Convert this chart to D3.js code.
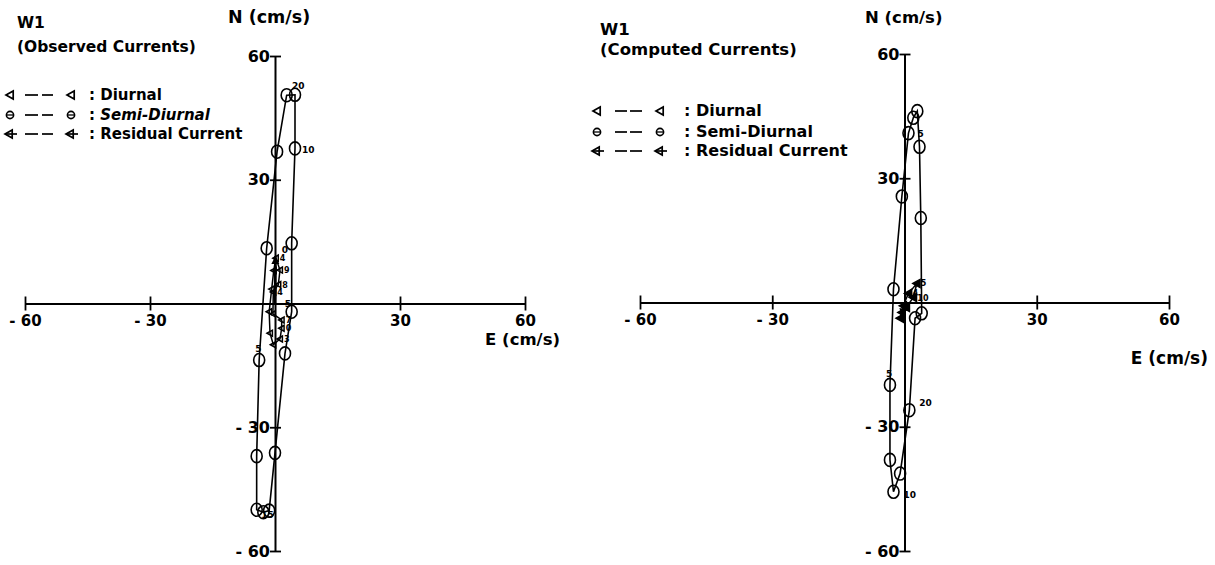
<!DOCTYPE html>
<html>
<head>
<meta charset="utf-8">
<script src="https://cdn.jsdelivr.net/npm/d3@7"></script>
<style>
  body { margin: 0; background: #fff; }
  text { font-family: "DejaVu Sans", sans-serif; font-weight: bold; fill: #000; }
</style>
</head>
<body>
<script>
// axis ticks (cm/s)
var eTicks = [-60, -30, 30, 60];
var nTicks = [-60, -30, 30, 60];

// [east, north, hour label], in drawing order (closed loops)
var obsSemi = [
  [2.8, 50.5, ""], [4.8, 50.6, "20"], [4.8, 37.6, "10"], [4.0, 14.6, "0"],
  [4.0, -2.0, "5"], [2.4, -12.1, ""], [0.0, -36.2, ""], [-1.4, -50.2, ""],
  [-2.8, -50.6, "15"], [-4.4, -50.0, ""], [-4.4, -37.0, ""], [-3.8, -13.7, "5"],
  [-2.0, 13.4, ""], [0.5, 36.8, ""]
];
var obsDiurnal = [
  [0.2, 11.0, "4"], [1.2, 8.1, "9"], [0.8, 4.6, "8"], [-0.4, 2.8, "4"],
  [-0.5, -2.5, ""], [1.6, -4.0, "7"], [1.6, -6.0, "0"], [1.2, -8.6, "3"],
  [-0.4, -10.0, ""], [-1.2, -7.2, ""], [-1.4, -2.0, ""], [-0.8, 3.5, ""],
  [-0.3, 8.0, ""]
];
var obsResidual = [0.1, 11.5];

var compSemi = [
  [2.0, 44.6, ""], [2.9, 46.2, ""], [3.4, 37.6, ""], [3.7, 20.4, ""],
  [3.9, -2.6, ""], [2.4, -3.8, ""], [1.1, -26.0, "20"], [-1.0, -41.3, ""],
  [-2.5, -45.7, "10"], [-3.3, -38.0, ""], [-3.3, -19.9, "5"], [-2.5, 3.2, ""],
  [-0.6, 25.6, ""], [0.9, 40.9, "5"]
];
var compDiurnal = [
  [0.9, 2.2, "4"], [2.8, 4.6, "5"], [2.0, 1.2, "10"], [0.4, -1.2, ""],
  [-0.6, -2.4, ""], [-1.0, -3.8, ""], [-0.3, -0.8, ""]
];
var compResidual = [-0.6, -3.4];

var legendNames = ["Diurnal", "Semi-Diurnal", "Residual Current"];

var svg = d3.select("body").append("svg")
  .attr("width", 1215)
  .attr("height", 565);

// label nudges (px) for hour numbers, by panel and point index
var nudgeObs = {1: [-3, -6], 2: [7, 5], 3: [-10, 10], 4: [-7, -5], 8: [-2, 6], 11: [-4, -8]};
var nudgeComp = {6: [10, -4], 8: [10, 6], 10: [-4, -8], 13: [9, 4]};

var panels = [
  {
    semi: obsSemi, diurnal: obsDiurnal, residual: obsResidual,
    x: d3.scaleLinear().domain([-60, 60]).range([25, 525]),
    y: d3.scaleLinear().domain([-60, 60]).range([551, 56]),
    title: ["W1", "(Observed Currents)"], titleX: 17, titleY: [28, 52], titleSize: 15.5,
    nTitle: [228, 23, 17.5], eTitle: [560, 345, 16.5],
    legendY: [100, 120, 139], legendSize: 15, italicSemi: true,
    legendX: {s1: 10, d1: [25, 38], d2: [42, 53], s2: 71, text: 89},
    nudge: nudgeObs, diurnalFill: "none", triSize: 3
  },
  {
    semi: compSemi, diurnal: compDiurnal, residual: compResidual,
    x: d3.scaleLinear().domain([-60, 60]).range([640, 1169]),
    y: d3.scaleLinear().domain([-60, 60]).range([551, 54]),
    title: ["W1", "(Computed Currents)"], titleX: 600, titleY: [35, 55], titleSize: 16.5,
    nTitle: [865, 23, 16.5], eTitle: [1208, 364, 17],
    legendY: [116, 137, 156], legendSize: 16, italicSemi: false,
    legendX: {s1: 597, d1: [615, 627], d2: [630, 642], s2: 660, text: 684},
    nudge: nudgeComp, diurnalFill: "#000", triSize: 4
  }
];

var fmt = d => d < 0 ? "- " + Math.abs(d) : String(d);

function triPath(cx, cy, s) {
  return "M" + (cx - s) + "," + cy + "L" + (cx + s * 0.8) + "," + (cy - s) +
    "L" + (cx + s * 0.8) + "," + (cy + s) + "Z";
}

function drawSymbol(g, kind, cx, cy) {
  if (kind === 0) {
    g.append("path").attr("d", triPath(cx, cy, 4))
      .attr("fill", "none").attr("stroke", "#000").attr("stroke-width", 1.7);
  } else if (kind === 1) {
    g.append("circle").attr("cx", cx).attr("cy", cy).attr("r", 3.6)
      .attr("fill", "none").attr("stroke", "#000").attr("stroke-width", 1.6);
    g.append("line").attr("x1", cx - 3).attr("x2", cx + 3).attr("y1", cy).attr("y2", cy)
      .attr("stroke", "#000").attr("stroke-width", 1.3);
  } else {
    g.append("path").attr("d", triPath(cx - 1, cy, 4))
      .attr("fill", "none").attr("stroke", "#000").attr("stroke-width", 1.7);
    g.append("line").attr("x1", cx - 5).attr("x2", cx + 7).attr("y1", cy).attr("y2", cy)
      .attr("stroke", "#000").attr("stroke-width", 1.7);
  }
}

panels.forEach(function (p) {
  var g = svg.append("g");
  var x = p.x, y = p.y;

  // axes crossing at the origin
  var gx = g.append("g")
    .attr("transform", "translate(0," + y(0) + ")")
    .call(d3.axisBottom(x).tickValues(eTicks).tickFormat(fmt)
      .tickSizeInner(7).tickSizeOuter(0).tickPadding(5));
  gx.select(".domain").attr("stroke-width", 2);
  gx.selectAll(".tick line").attr("y1", -7).attr("stroke-width", 1.8);
  gx.selectAll(".tick text").attr("font-size", 15).attr("fill", "#000");
  gx.attr("font-family", null);

  var gy = g.append("g")
    .attr("transform", "translate(" + x(0) + ",0)")
    .call(d3.axisLeft(y).tickValues(nTicks).tickFormat(fmt)
      .tickSizeInner(5).tickSizeOuter(0).tickPadding(0));
  gy.select(".domain").attr("stroke-width", 2);
  gy.selectAll(".tick line").attr("x1", 6).attr("stroke-width", 1.8);
  gy.selectAll(".tick text").attr("font-size", 16).attr("fill", "#000");
  gy.attr("font-family", null);

  // titles
  p.title.forEach(function (t, i) {
    g.append("text").attr("x", p.titleX).attr("y", p.titleY[i])
      .attr("font-size", p.titleSize).text(t);
  });
  g.append("text").attr("x", p.nTitle[0]).attr("y", p.nTitle[1])
    .attr("font-size", p.nTitle[2]).text("N (cm/s)");
  g.append("text").attr("x", p.eTitle[0]).attr("y", p.eTitle[1])
    .attr("text-anchor", "end").attr("font-size", p.eTitle[2]).text("E (cm/s)");

  // legend
  legendNames.forEach(function (name, i) {
    var by = p.legendY[i], cy = by - 5;
    drawSymbol(g, i, p.legendX.s1, cy);
    [p.legendX.d1, p.legendX.d2].forEach(function (d) {
      g.append("line").attr("x1", d[0]).attr("x2", d[1]).attr("y1", cy).attr("y2", cy)
        .attr("stroke", "#000").attr("stroke-width", 1.7);
    });
    drawSymbol(g, i, p.legendX.s2, cy);
    var t = g.append("text").attr("x", p.legendX.text).attr("y", by)
      .attr("font-size", p.legendSize);
    t.append("tspan").text(": ");
    var ts = t.append("tspan").text(name);
    if (i === 1 && p.italicSemi) ts.attr("font-style", "italic");
  });

  var line = d3.line().x(d => x(d[0])).y(d => y(d[1])).curve(d3.curveLinearClosed);

  // diurnal loop
  g.append("path").attr("d", line(p.diurnal))
    .attr("fill", "none").attr("stroke", "#000").attr("stroke-width", 1.5);
  g.selectAll(null).data(p.diurnal).enter().append("path")
    .attr("d", d => triPath(x(d[0]), y(d[1]), p.triSize))
    .attr("fill", p.diurnalFill).attr("stroke", "#000").attr("stroke-width", 1.5);
  g.selectAll(null).data(p.diurnal.filter(d => d[2])).enter().append("text")
    .attr("x", d => x(d[0]) + 4).attr("y", d => y(d[1]) + 3)
    .attr("font-size", 8).text(d => d[2]);

  // semi-diurnal loop
  g.append("path").attr("d", line(p.semi))
    .attr("fill", "none").attr("stroke", "#000").attr("stroke-width", 1.6);
  g.selectAll(null).data(p.semi).enter().append("ellipse")
    .attr("cx", d => x(d[0])).attr("cy", d => y(d[1]))
    .attr("rx", 5.5).attr("ry", 6.5)
    .attr("fill", "none").attr("stroke", "#000").attr("stroke-width", 1.6);
  g.selectAll(null).data(p.semi.map((d, i) => [d, i]).filter(d => d[0][2])).enter().append("text")
    .attr("x", d => x(d[0][0]) + (p.nudge[d[1]] || [6, -3])[0])
    .attr("y", d => y(d[0][1]) + (p.nudge[d[1]] || [6, -3])[1])
    .attr("font-size", 9).text(d => d[0][2]);

  // residual current arrow from the origin
  var x0 = x(0), y0 = y(0), x1 = x(p.residual[0]), y1 = y(p.residual[1]);
  var ang = Math.atan2(y1 - y0, x1 - x0), L = 8, Wd = 4;
  g.append("line").attr("x1", x0).attr("y1", y0).attr("x2", x1).attr("y2", y1)
    .attr("stroke", "#000").attr("stroke-width", 2.5);
  g.append("path")
    .attr("d", "M" + x1 + "," + y1 +
      "L" + (x1 - L * Math.cos(ang) + Wd * Math.sin(ang)) + "," + (y1 - L * Math.sin(ang) - Wd * Math.cos(ang)) +
      "L" + (x1 - L * Math.cos(ang) - Wd * Math.sin(ang)) + "," + (y1 - L * Math.sin(ang) + Wd * Math.cos(ang)) + "Z")
    .attr("fill", "#000");
});
</script>
</body>
</html>
